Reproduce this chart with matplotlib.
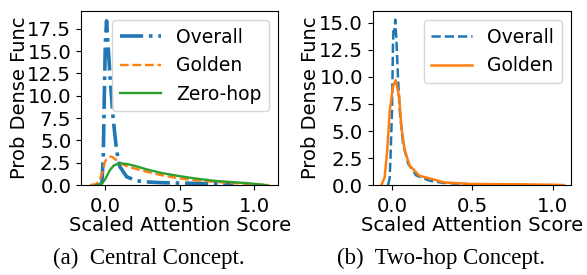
import matplotlib
matplotlib.use("Agg")
import matplotlib.pyplot as plt

# (a) Central concept: KDE curves
central_overall_x = [-0.03, -0.02, -0.011, -0.004, 0.003, 0.011, 0.02, 0.034, 0.056, 0.078,
                     0.1, 0.146, 0.21, 0.3, 0.39, 0.5, 0.62, 0.72, 0.79, 0.86]
central_overall_y = [0.0, 0.3, 3.2, 10.0, 16.0, 18.4, 16.0, 12.2, 7.3, 3.9,
                     2.06, 0.93, 0.48, 0.33, 0.26, 0.22, 0.19, 0.16, 0.12, 0.02]

central_golden_x = [-0.1, -0.06, -0.034, -0.015, 0.0, 0.02, 0.045, 0.07, 0.1, 0.15,
                    0.2, 0.28, 0.38, 0.5, 0.6, 0.73, 0.85, 1.0, 1.1]
central_golden_y = [0.0, 0.1, 0.56, 1.6, 2.6, 3.1, 3.2, 2.9, 2.45, 2.1,
                    1.85, 1.5, 1.1, 0.75, 0.55, 0.37, 0.22, 0.1, 0.0]

central_zerohop_x = [-0.06, -0.02, 0.0, 0.034, 0.06, 0.1, 0.15, 0.2, 0.28, 0.38,
                     0.5, 0.6, 0.73, 0.85, 0.95, 1.02, 1.08]
central_zerohop_y = [0.0, 0.19, 0.6, 1.7, 2.2, 2.45, 2.35, 2.15, 1.76, 1.35,
                     1.0, 0.75, 0.48, 0.33, 0.22, 0.1, 0.0]

# (b) Two-hop concept
twohop_overall_x = [-0.025, -0.015, -0.01, 0.0, 0.006, 0.01, 0.014, 0.02, 0.027, 0.037,
                    0.048, 0.069, 0.1, 0.15, 0.235, 0.32, 0.49, 0.6]
twohop_overall_y = [0.0, 0.6, 2.3, 6.9, 13.1, 14.5, 14.0, 15.3, 13.5, 10.0,
                    6.9, 3.8, 2.0, 0.9, 0.4, 0.2, 0.07, 0.02]

twohop_golden_x = [-0.066, -0.046, -0.03, -0.014, 0.006, 0.023, 0.044, 0.058, 0.079, 0.11,
                   0.17, 0.25, 0.32, 0.49, 0.8, 1.0, 1.07]
twohop_golden_y = [0.0, 0.7, 3.2, 6.9, 9.1, 9.7, 8.2, 5.4, 3.2, 1.8,
                   0.86, 0.56, 0.25, 0.1, 0.07, 0.03, 0.0]

xticks = [0.0, 0.5, 1.0]
left_yticks = [0.0, 2.5, 5.0, 7.5, 10.0, 12.5, 15.0, 17.5]
right_yticks = [0.0, 2.5, 5.0, 7.5, 10.0, 12.5, 15.0]
captions = ["(a)  Central Concept.", "(b)  Two-hop Concept."]

blue, orange, green = "#1f77b4", "#ff7f0e", "#2ca02c"
plt.rcParams["font.size"] = 14.2
plt.rcParams["axes.labelsize"] = 14
plt.rcParams["legend.fontsize"] = 13.5

fig = plt.figure(figsize=(5.87, 2.75), dpi=100)
ax1 = fig.add_axes([0.138, 0.327, 0.336, 0.633])
ax2 = fig.add_axes([0.635, 0.327, 0.338, 0.633])

ax1.plot(central_overall_x, central_overall_y, color=blue, ls="-.", lw=2.6, label="Overall")
ax1.plot(central_golden_x, central_golden_y, color=orange, ls="--", lw=1.7, label="Golden")
ax1.plot(central_zerohop_x, central_zerohop_y, color=green, ls="-", lw=1.7, label="Zero-hop")
ax1.set_xlim(-0.16, 1.16)
ax1.set_ylim(0, 19.5)
ax1.set_yticks(left_yticks)

ax2.plot(twohop_overall_x, twohop_overall_y, color=blue, ls="--", lw=1.8, label="Overall")
ax2.plot(twohop_golden_x, twohop_golden_y, color=orange, ls="-", lw=1.8, label="Golden")
ax2.set_xlim(-0.12, 1.115)
ax2.set_ylim(0, 16.1)
ax2.set_yticks(right_yticks)

for ax in (ax1, ax2):
    ax.set_xticks(xticks)
    ax.tick_params(axis="x", pad=5)
    ax.set_xlabel("Scaled Attention Score", labelpad=0)
    ax.set_ylabel("Prob Dense Func", labelpad=-1)
    ax.legend(loc="upper right", handlelength=2.2, borderaxespad=0.5)

fig.text(0.254, 0.06, captions[0], ha="center", va="center",
         family="Liberation Serif", fontsize=16.5)
fig.text(0.752, 0.06, captions[1], ha="center", va="center",
         family="Liberation Serif", fontsize=16.5)

fig.savefig("out.png", dpi=100)
